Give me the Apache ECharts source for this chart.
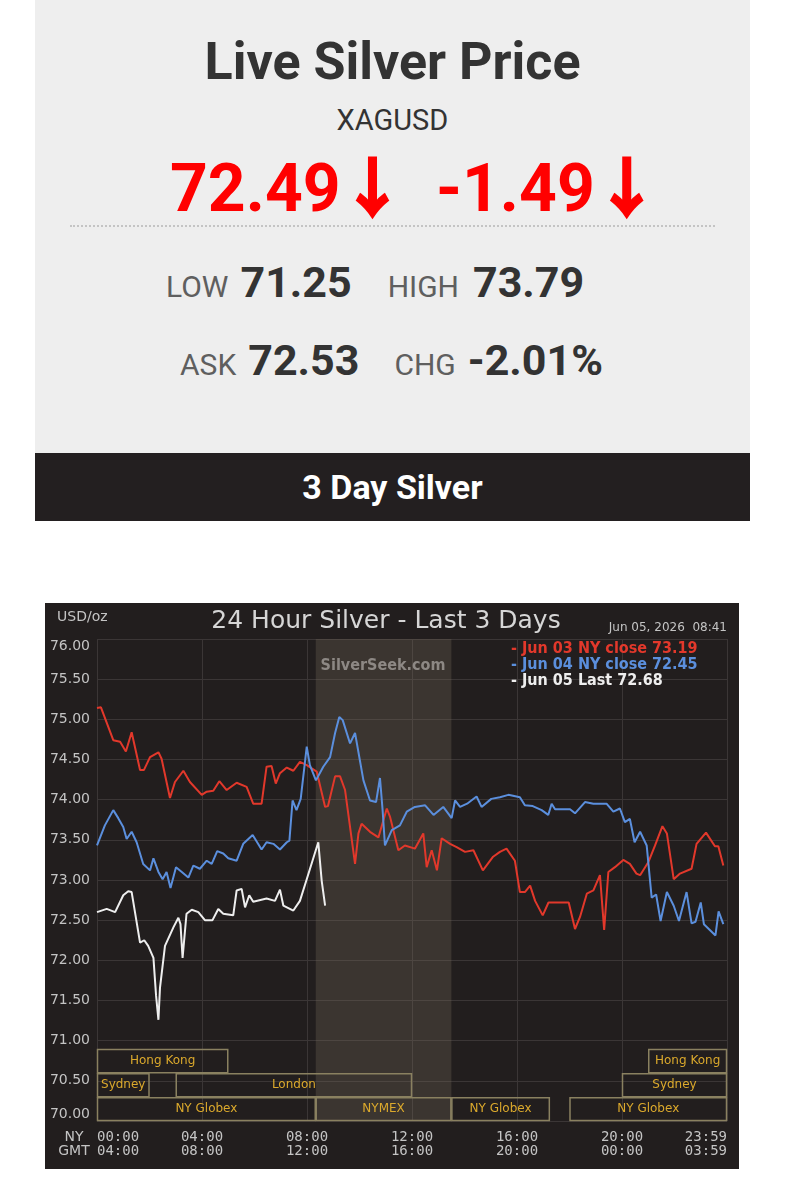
<!DOCTYPE html>
<html>
<head>
<meta charset="utf-8">
<script src="https://cdn.jsdelivr.net/npm/echarts@6/dist/echarts.min.js"></script>
<style>
  html, body { margin: 0; padding: 0; }
  body { width: 785px; height: 1200px; background: #ffffff; position: relative; overflow: hidden; font-family: Roboto, "Noto Sans", sans-serif; }
  .abs { position: absolute; white-space: nowrap; }
  #hdr { left: 35px; top: 0; width: 715px; height: 453px; background: #eeeeee; }
  #title { left: 35px; width: 715px; top: 36px; text-align: center; font-size: 52px; line-height: 52px; font-weight: 700; color: #333333; }
  #sym { left: 35px; width: 715px; top: 106px; text-align: center; font-size: 29px; line-height: 29px; color: #333333; }
  .px { top: 150px; font-size: 66px; line-height: 67px; font-weight: 700; color: #ff0000; }
  .arr { font-family: "Noto Sans CJK SC", "DejaVu Sans", sans-serif; font-weight: 700; font-size: 64px; margin-left: 0px; -webkit-text-stroke: 2.5px #ff0000; }
  #dots { left: 70px; top: 225px; width: 645px; height: 0; border-top: 2px dotted #c4c4c4; }
  .row { font-size: 44px; line-height: 44px; }
  .lb { font-size: 30px; color: #5f5f5f; }
  .vl { font-size: 43px; font-weight: 700; color: #333333; }
  #bar { left: 35px; top: 453px; width: 715px; height: 68px; background: #231f20; }
  #barTxt { left: 35px; width: 715px; top: 470px; text-align: center; font-size: 34px; line-height: 34px; font-weight: 700; color: #ffffff; }
  #chart { left: 45px; top: 603px; width: 694px; height: 566px; }
</style>
</head>
<body>
<div class="abs" id="hdr"></div>
<div class="abs" id="title">Live Silver Price</div>
<div class="abs" id="sym">XAGUSD</div>
<div class="abs px" style="left:170px">72.49<span class="arr">↓</span></div>
<div class="abs px" style="left:436px">-1.49<span class="arr">↓</span></div>
<div class="abs" id="dots"></div>
<div class="abs row" style="left:166px; top:260px"><span class="lb">LOW</span><span class="vl" style="margin-left:12px">71.25</span><span class="lb" style="margin-left:36px">HIGH</span><span class="vl" style="margin-left:14px">73.79</span></div>
<div class="abs row" style="left:180px; top:338px"><span class="lb">ASK</span><span class="vl" style="margin-left:12px">72.53</span><span class="lb" style="margin-left:35px">CHG</span><span class="vl" style="margin-left:12px">-2.01%</span></div>
<div class="abs" id="bar"></div>
<div class="abs" id="barTxt">3 Day Silver</div>
<div class="abs" id="chart"></div>

<script>
// ---------- data ----------
const chartTitle = '24 Hour Silver - Last 3 Days';
const unitLabel = 'USD/oz';
const stampLabel = 'Jun 05, 2026  08:41';
const watermark = 'SilverSeek.com';
const legendLabels = ['Jun 03 NY close 73.19', 'Jun 04 NY close 72.45', 'Jun 05 Last 72.68'];
const nyTicks = ['00:00', '04:00', '08:00', '12:00', '16:00', '20:00', '23:59'];
const gmtTicks = ['04:00', '08:00', '12:00', '16:00', '20:00', '00:00', '03:59'];
const nymexWindow = [8.333, 13.5];
// [name, startHour, endHour, row]
const sessions = [
  ['Hong Kong', 0, 5, 2],
  ['Sydney', 0, 2, 1],
  ['London', 3, 12, 1],
  ['NY Globex', 0, 8.333, 0],
  ['NYMEX', 8.333, 13.5, 0],
  ['NY Globex', 13.5, 17.25, 0],
  ['NY Globex', 18, 24, 0],
  ['Sydney', 20, 24, 1],
  ['Hong Kong', 21, 24, 2]
];
const sessionRowBounds = [70.0, 70.295, 70.595, 70.895];

// [hour (NY), price]
const jun03 = [
  [0.00,75.14],[0.15,75.15],[0.62,74.74],[0.88,74.72],[1.10,74.60],[1.32,74.84],[1.64,74.37],[1.79,74.37],
  [2.02,74.53],[2.34,74.59],[2.46,74.51],[2.78,74.02],[2.97,74.22],[3.29,74.36],[3.54,74.22],[3.99,74.06],
  [4.18,74.10],[4.43,74.11],[4.66,74.23],[4.94,74.12],[5.32,74.21],[5.70,74.16],[5.95,73.95],[6.27,73.95],
  [6.46,74.41],[6.65,74.42],[6.81,74.20],[6.97,74.33],[7.23,74.40],[7.48,74.36],[7.73,74.47],[7.99,74.43],
  [8.37,74.35],[8.69,73.91],[8.80,73.92],[9.07,74.29],[9.26,74.29],[9.45,74.12],[9.83,73.20],[9.96,73.58],
  [10.08,73.70],[10.40,73.60],[10.72,73.53],[11.04,73.89],[11.16,73.79],[11.48,73.37],[11.73,73.43],[12.11,73.39],
  [12.43,73.58],[12.56,73.16],[12.75,73.37],[12.95,73.12],[13.13,73.52],[13.45,73.45],[13.70,73.41],[14.02,73.35],
  [14.34,73.37],[14.70,73.12],[15.09,73.29],[15.35,73.35],[15.60,73.39],[15.92,73.24],[16.11,72.85],[16.30,72.85],
  [16.50,72.93],[16.69,72.74],[16.98,72.56],[17.20,72.72],[17.97,72.72],[18.21,72.39],[18.40,72.54],[18.66,72.83],
  [18.91,72.87],[19.16,73.06],[19.32,72.38],[19.48,73.10],[19.73,73.16],[20.05,73.25],[20.30,73.20],[20.55,73.08],
  [20.69,73.06],[21.00,73.22],[21.26,73.43],[21.54,73.67],[21.71,73.58],[21.97,73.01],[22.21,73.08],[22.65,73.14],
  [22.84,73.45],[23.20,73.59],[23.54,73.42],[23.67,73.42],[23.86,73.18]
];
const jun04 = [
  [0.00,73.43],[0.30,73.68],[0.62,73.87],[0.81,73.77],[1.00,73.66],[1.13,73.51],[1.32,73.60],[1.51,73.47],
  [1.76,73.20],[2.02,73.12],[2.15,73.27],[2.34,73.10],[2.50,73.01],[2.65,73.10],[2.80,72.90],[3.01,73.16],
  [3.23,73.10],[3.48,73.03],[3.67,73.18],[3.92,73.14],[4.18,73.24],[4.37,73.20],[4.58,73.36],[4.81,73.33],
  [5.00,73.27],[5.32,73.24],[5.57,73.45],[5.93,73.56],[6.27,73.38],[6.46,73.47],[6.72,73.45],[6.97,73.38],
  [7.23,73.47],[7.33,73.49],[7.45,73.99],[7.60,73.87],[7.76,74.01],[7.99,74.66],[8.11,74.43],[8.34,74.24],
  [8.62,74.41],[8.88,74.53],[9.07,74.83],[9.23,75.03],[9.36,74.99],[9.64,74.70],[9.83,74.83],[10.15,74.24],
  [10.40,73.99],[10.63,73.97],[10.78,74.27],[10.88,73.87],[10.97,73.43],[11.23,73.62],[11.54,73.68],[11.80,73.85],
  [12.11,73.91],[12.50,73.93],[12.82,73.81],[13.19,73.91],[13.51,73.77],[13.64,73.99],[13.83,73.91],[14.10,73.95],
  [14.46,74.04],[14.65,73.91],[15.02,74.01],[15.35,74.03],[15.67,74.06],[16.11,74.03],[16.30,73.93],[16.60,73.92],
  [16.94,73.87],[17.19,73.81],[17.32,73.95],[17.45,73.88],[18.02,73.88],[18.21,73.83],[18.59,73.97],[18.91,73.95],
  [19.41,73.95],[19.67,73.85],[19.92,73.89],[20.11,73.72],[20.30,73.76],[20.48,73.47],[20.69,73.60],[20.94,73.43],
  [21.13,72.78],[21.30,72.82],[21.47,72.49],[21.71,72.85],[21.97,72.68],[22.17,72.49],[22.46,72.85],[22.65,72.46],
  [22.80,72.48],[23.00,72.72],[23.12,72.45],[23.56,72.31],[23.68,72.61],[23.86,72.45]
];
const jun05 = [
  [0.00,72.60],[0.37,72.64],[0.69,72.60],[1.00,72.81],[1.19,72.86],[1.32,72.85],[1.64,72.22],[1.80,72.25],
  [1.95,72.18],[2.15,72.03],[2.25,71.56],[2.34,71.26],[2.40,71.66],[2.59,72.18],[2.91,72.41],[3.10,72.53],
  [3.18,72.45],[3.26,72.03],[3.41,72.58],[3.61,72.63],[3.86,72.60],[4.11,72.50],[4.40,72.50],[4.62,72.64],
  [4.81,72.58],[5.19,72.56],[5.32,72.87],[5.51,72.89],[5.64,72.66],[5.80,72.81],[5.95,72.73],[6.46,72.77],
  [6.78,72.74],[6.97,72.88],[7.10,72.68],[7.48,72.62],[7.73,72.74],[7.99,73.01],[8.21,73.24],[8.43,73.47],
  [8.56,72.99],[8.69,72.68]
];

// ---------- chart ----------
const C = {
  bg: '#221e1e', grid: '#3b3636', text: '#c4c4c4',
  red: '#e2382b', blue: '#5b8fdd', white: '#eeeeee',
  shade: 'rgba(118,108,92,0.30)', boxLine: '#8a8160', boxText: '#dba92c'
};
const LEG_FONT = 'bold 16px "DejaVu Sans Condensed", "DejaVu Sans"';
const chart = echarts.init(document.getElementById('chart'), null, { renderer: 'canvas' });

const option = {
  backgroundColor: C.bg,
  animation: false,
  grid: { left: 52, right: 12, top: 36, bottom: 48 },
  xAxis: {
    type: 'value', min: 0, max: 24, interval: 4,
    axisLine: { show: false }, axisTick: { show: false },
    splitLine: { show: true, lineStyle: { color: C.grid, width: 1 } },
    axisLabel: {
      color: C.text, fontFamily: 'DejaVu Sans Mono', fontSize: 14, lineHeight: 14, margin: 9,
      alignMinLabel: 'left', alignMaxLabel: 'right',
      formatter: function (v) { const i = Math.round(v / 4); return nyTicks[i] + '\n' + gmtTicks[i]; }
    }
  },
  yAxis: {
    type: 'value', min: 70, max: 76, interval: 0.5,
    axisLine: { show: false }, axisTick: { show: false },
    splitLine: { show: true, lineStyle: { color: C.grid, width: 1 } },
    axisLabel: {
      color: C.text, fontFamily: 'DejaVu Sans', fontSize: 14, margin: 7,
      verticalAlignMaxLabel: 'top', verticalAlignMinLabel: 'bottom',
      formatter: v => v.toFixed(2)
    }
  },
  graphic: [
    { type: 'text', left: 12, top: 7, style: { text: unitLabel, fill: C.text, font: '14px "DejaVu Sans"' } },
    { type: 'text', x: 341, y: 18, style: { text: chartTitle, fill: '#d6d6d6', font: '25px "DejaVu Sans"', align: 'center', verticalAlign: 'middle' } },
    { type: 'text', x: 682, y: 25, style: { text: stampLabel, fill: C.text, font: '12px "DejaVu Sans"', align: 'right', verticalAlign: 'middle' } },
    { type: 'text', x: 338, y: 63, z: 10, style: { text: watermark, fill: '#8d8884', font: 'bold 16px "DejaVu Sans Condensed", "DejaVu Sans"', align: 'center', verticalAlign: 'middle' } },
    { type: 'text', x: 466, y: 46, z: 10, style: { text: '- ' + legendLabels[0], fill: C.red, font: LEG_FONT, verticalAlign: 'middle' } },
    { type: 'text', x: 466, y: 62, z: 10, style: { text: '- ' + legendLabels[1], fill: C.blue, font: LEG_FONT, verticalAlign: 'middle' } },
    { type: 'text', x: 466, y: 78, z: 10, style: { text: '- ' + legendLabels[2], fill: C.white, font: LEG_FONT, verticalAlign: 'middle' } },
    { type: 'text', x: 29, y: 534, style: { text: 'NY', fill: C.text, font: '14px "DejaVu Sans"', align: 'center', verticalAlign: 'middle' } },
    { type: 'text', x: 29, y: 548, style: { text: 'GMT', fill: C.text, font: '14px "DejaVu Sans"', align: 'center', verticalAlign: 'middle' } }
  ],
  series: [
    {
      type: 'custom', name: 'NYMEX hours', silent: true, z: 1,
      data: [nymexWindow],
      renderItem: function (params, api) {
        const p0 = api.coord([api.value(0), 76]);
        const p1 = api.coord([api.value(1), 70]);
        return { type: 'rect', shape: { x: p0[0], y: p0[1], width: p1[0] - p0[0], height: p1[1] - p0[1] }, style: { fill: C.shade } };
      }
    },
    {
      type: 'custom', name: 'Sessions', silent: true, z: 3,
      data: sessions.map(s => [s[1], s[2], s[3]]),
      renderItem: function (params, api) {
        const s = api.value(0), e = api.value(1), r = api.value(2);
        const p0 = api.coord([s, sessionRowBounds[r + 1]]);
        const p1 = api.coord([e, sessionRowBounds[r]]);
        return {
          type: 'group', children: [
            { type: 'rect', shape: { x: p0[0] + 0.5, y: p0[1] + 0.5, width: p1[0] - p0[0] - 1, height: p1[1] - p0[1] - 1 },
              style: { fill: 'rgba(0,0,0,0)', stroke: C.boxLine, lineWidth: 1.5 } },
            { type: 'text', x: (p0[0] + p1[0]) / 2, y: (p0[1] + p1[1]) / 2,
              style: { text: sessions[params.dataIndex][0], fill: C.boxText, font: '12px "DejaVu Sans"', align: 'center', verticalAlign: 'middle' } }
          ]
        };
      }
    },
    { type: 'line', name: 'Jun 03', data: jun03, showSymbol: false, z: 4, lineStyle: { color: C.red, width: 2 }, itemStyle: { color: C.red } },
    { type: 'line', name: 'Jun 04', data: jun04, showSymbol: false, z: 4, lineStyle: { color: C.blue, width: 2 }, itemStyle: { color: C.blue } },
    { type: 'line', name: 'Jun 05', data: jun05, showSymbol: false, z: 5, lineStyle: { color: C.white, width: 2 }, itemStyle: { color: C.white } }
  ]
};
chart.setOption(option);
</script>
</body>
</html>
